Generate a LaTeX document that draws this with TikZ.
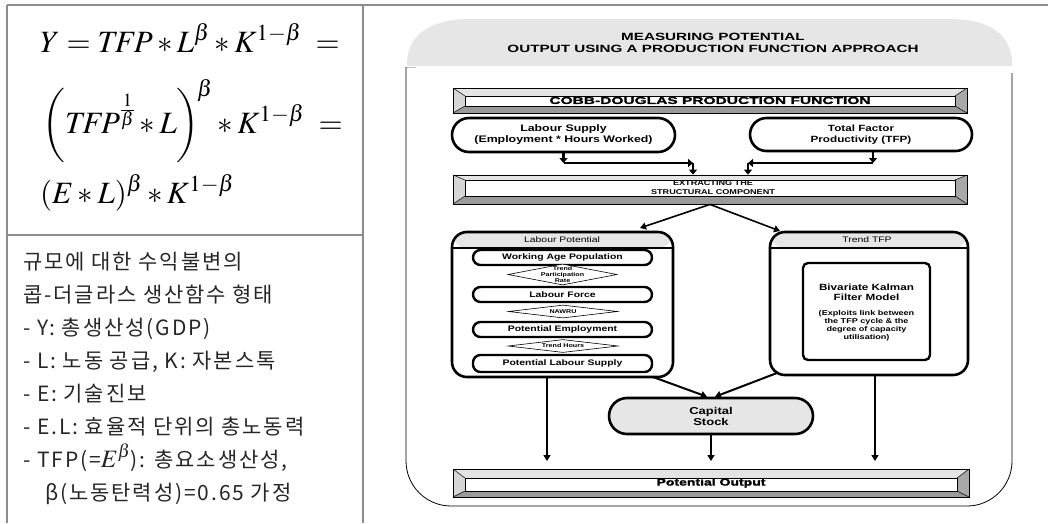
\documentclass[tikz,border=0pt]{standalone}
\usepackage{mathptmx}
\usepackage[no-math]{fontspec}
\setmainfont{Liberation Sans}
\newfontfamily\kr[LetterSpace=9]{Noto Sans CJK KR}
\newfontfamily\fa[FakeStretch=1.3]{Liberation Sans}
\newfontfamily\fb[FakeStretch=1.55,FakeBold=1.5]{Liberation Sans}
\newfontfamily\fc[FakeStretch=1.45]{Liberation Sans}
\newfontfamily\fd[FakeStretch=1.4,FakeBold=1.5]{Liberation Sans}
\usetikzlibrary{arrows.meta,calc,shapes.geometric}
\definecolor{tblgray}{HTML}{8C8C8C}
\definecolor{hdrgray}{HTML}{E6E6E6}
\definecolor{bvT}{HTML}{E4E4E4}
\definecolor{bvL}{HTML}{D6D6D6}
\definecolor{bvB}{HTML}{9A9A9A}
\definecolor{bvR}{HTML}{A8A8A8}
\tikzset{
  tbl/.style={draw=tblgray, line width=1.3pt},
  formula/.style={inner sep=0pt, anchor=base west, font=\fontsize{31}{36}\selectfont},
  kline/.style={inner sep=0pt, anchor=base west, text=black!85, font=\kr\fontsize{21}{24}\selectfont},
  bar/.style={draw, line width=0.8pt, rectangle, inner sep=0pt, fill=white},
  bevel/.style n args={3}{path picture={
    \fill[bvT] (path picture bounding box.north west) -- (path picture bounding box.north east)
      -- ([xshift=-#3pt,yshift=-#1pt]path picture bounding box.north east)
      -- ([xshift=#3pt,yshift=-#1pt]path picture bounding box.north west) -- cycle;
    \fill[bvB] (path picture bounding box.south west) -- (path picture bounding box.south east)
      -- ([xshift=-#3pt,yshift=#2pt]path picture bounding box.south east)
      -- ([xshift=#3pt,yshift=#2pt]path picture bounding box.south west) -- cycle;
    \fill[bvL] (path picture bounding box.north west)
      -- ([xshift=#3pt,yshift=-#1pt]path picture bounding box.north west)
      -- ([xshift=#3pt,yshift=#2pt]path picture bounding box.south west)
      -- (path picture bounding box.south west) -- cycle;
    \fill[bvR] (path picture bounding box.north east)
      -- ([xshift=-#3pt,yshift=-#1pt]path picture bounding box.north east)
      -- ([xshift=-#3pt,yshift=#2pt]path picture bounding box.south east)
      -- (path picture bounding box.south east) -- cycle;
    \draw[line width=0.5pt] (path picture bounding box.north west) -- ([xshift=#3pt,yshift=-#1pt]path picture bounding box.north west)
      (path picture bounding box.north east) -- ([xshift=-#3pt,yshift=-#1pt]path picture bounding box.north east)
      (path picture bounding box.south west) -- ([xshift=#3pt,yshift=#2pt]path picture bounding box.south west)
      (path picture bounding box.south east) -- ([xshift=-#3pt,yshift=#2pt]path picture bounding box.south east);
    \draw[fill=white, line width=1pt] ([xshift=#3pt,yshift=-#1pt]path picture bounding box.north west)
      rectangle ([xshift=-#3pt,yshift=#2pt]path picture bounding box.south east);
  }},
  pill/.style={draw, line width=2.6pt, fill=white, inner sep=0pt, align=center},
  cont/.style={draw, line width=2.6pt, rounded corners=15pt, fill=white, inner sep=0pt,
    path picture={
      \fill[hdrgray] (path picture bounding box.north west) rectangle ([yshift=-16pt]path picture bounding box.north east);
      \draw[line width=1.8pt] ([yshift=-16pt]path picture bounding box.north west) -- ([yshift=-16pt]path picture bounding box.north east);
    }},
  inbox/.style={draw, line width=2.4pt, rounded corners=7.5pt, fill=white, inner sep=0pt,
    minimum width=179pt, font=\fa\bfseries\fontsize{8}{9}\selectfont},
  dia/.style={draw, line width=0.6pt, diamond, fill=white, inner sep=0pt, minimum width=109pt},
  diatext/.style={inner sep=0pt, align=center, font=\fa\bfseries\fontsize{5.5}{6}\selectfont},
  conn/.style={line width=2.6pt, -{Triangle[length=5pt,width=8pt]}},
  conn2/.style={line width=1.6pt, -{Triangle[length=6pt,width=7pt]}},
  conn3/.style={line width=2pt, -{Triangle[length=6pt,width=7pt]}},
}
\begin{document}
\begin{tikzpicture}[x=1pt,y=-1pt]
\useasboundingbox (0,0) rectangle (1048,523);
% ---- table
\draw[tbl] (7,5) -- (1048,5);
\draw[tbl] (7,5) -- (7,523);
\draw[tbl] (363,5) -- (363,523);
\draw[tbl] (7,235) -- (363,235);
% ---- formula
\node[formula] (f1) at (40,52) {$Y = \mathit{TFP} * L^{\beta} * K^{1-\beta} \;=$};
\node[formula] (f2) at (42,133) {$\left(\rule[-27pt]{0pt}{66pt}\mathit{TFP}^{\frac{1}{\beta}} * L\right)^{\!\beta} * K^{1-\beta} \;=$};
\node[formula] (f3) at (40,203) {$(E * L)^{\beta} * K^{1-\beta}$};
% ---- korean text
\node[kline] (k1) at (23,269) {규모에 대한 수익불변의};
\node[kline] (k2) at (23,302) {콥-더글라스 생산함수 형태};
\node[kline] (k3) at (23,335) {- Y: 총생산성(GDP)};
\node[kline] (k4) at (23,368) {- L: 노동 공급, K: 자본스톡};
\node[kline] (k5) at (23,401) {- E: 기술진보};
\node[kline] (k6) at (23,434) {- E.L: 효율적 단위의 총노동력};
\node[kline] (k7) at (23,467) {- TFP(=\fontsize{25}{25}\selectfont$E^{\beta}$\kr\fontsize{21}{24}\selectfont): 총요소생산성,};
\node[kline] (k8) at (45,500) {β(노동탄력성)=0.65 가정};
% ---- frame and header
\fill[hdrgray] (407,66) -- (407,64) .. controls (407,35) and (430,19) .. (470,19) -- (950,19)
  .. controls (990,19) and (1012,35) .. (1012,64) -- (1012,66) -- cycle;
\draw[gray!50, line width=0.8pt] (406,67) -- (416,67);
\draw[line width=0.8pt, rounded corners=45pt] (406,67) -- (406,506) -- (1012,506) -- (1012,73);
\node[align=center, inner sep=0pt, font=\fc\bfseries\fontsize{10.5}{11.5}\selectfont] (title) at (713,43)
  {MEASURING POTENTIAL\\OUTPUT USING A PRODUCTION FUNCTION APPROACH};
% ---- bars
\node[bar, bevel={8}{7}{12}, minimum width=514pt, minimum height=25pt] (cobb) at (710,100.5)
  {\fb\bfseries\fontsize{10}{10}\selectfont COBB-DOUGLAS PRODUCTION FUNCTION};
\node[bar, bevel={5}{8}{12}, minimum width=514pt, minimum height=29pt] (ext) at (710,189.5) {};
\node[align=center, inner sep=0pt, font=\fa\bfseries\fontsize{7}{9}\selectfont] (extt) at (713,187.5)
  {EXTRACTING THE\\STRUCTURAL COMPONENT};
\node[bar, bevel={9}{6}{12}, minimum width=516pt, minimum height=28pt] (pout) at (711,483)
  {\fd\bfseries\fontsize{10}{10}\selectfont Potential Output};
% ---- top pills
\node[pill, rounded corners=17pt, minimum width=223pt, minimum height=34pt,
  font=\fa\bfseries\fontsize{9.5}{11}\selectfont] (ls) at (563.5,135)
  {Labour Supply\\(Employment * Hours Worked)};
\node[pill, rounded corners=16.5pt, minimum width=222pt, minimum height=33pt,
  font=\fa\bfseries\fontsize{9}{11}\selectfont] (tfp) at (861,134.5)
  {Total Factor\\Productivity (TFP)};
% ---- containers
\node[cont, minimum width=221pt, minimum height=145pt] (lp) at (562.5,304.5) {};
\node[inner sep=0pt, font=\fa\fontsize{8}{9}\selectfont] (lph) at (562,240) {Labour Potential};
\node[cont, minimum width=198pt, minimum height=143pt] (tt) at (869,303.5) {};
\node[inner sep=0pt, font=\fa\fontsize{8}{9}\selectfont] (tth) at (867,240) {Trend TFP};
% labour potential inner chain
\node[inbox, minimum height=15pt] (wap) at (562.5,257.5) {Working Age Population};
\node[dia, minimum height=21pt] (d1) at (562.5,274.5) {};
\node[diatext] (d1t) at (562.5,274.5) {Trend\\Participation\\Rate};
\node[inbox, minimum height=15pt] (lf) at (562.5,294.5) {Labour Force};
\node[dia, minimum height=13pt] (d2) at (563,311.5) {};
\node[diatext] (d2t) at (563,311.5) {NAWRU};
\node[inbox, minimum height=15pt] (pe) at (562.5,329.5) {Potential Employment};
\node[dia, minimum height=13pt, minimum width=110pt] (d3) at (563,346) {};
\node[diatext] (d3t) at (563,346) {Trend Hours};
\node[inbox, minimum height=17pt] (pls) at (562.5,363.5) {Potential Labour Supply};
% trend tfp inner
\node[draw, line width=2.4pt, rounded corners=5pt, fill=white, minimum width=127pt, minimum height=97pt] (kal) at (866.5,311.5) {};
\node[align=center, inner sep=0pt, font=\fa\bfseries\fontsize{9}{10}\selectfont] (kal1) at (866.5,292) {Bivariate Kalman\\Filter Model};
\node[align=center, inner sep=0pt, font=\fa\bfseries\fontsize{7}{8}\selectfont] (kal2) at (866.5,326) {(Exploits link between\\the TFP cycle \& the\\degree of capacity\\utilisation)};
% capital stock
\node[pill, rounded corners=18pt, fill=hdrgray, minimum width=204pt, minimum height=36pt,
  font=\fa\bfseries\fontsize{10}{11}\selectfont] (cs) at (711,416) {Capital\\Stock};
% ---- connectors
\coordinate (lsA) at (563.5,163);
\coordinate (lsB) at (693,163);
\draw[conn] (ls.south) -- (lsA);
\draw[conn] (lsA) -- (lsB);
\draw[conn] (lsB) -- (lsB |- ext.north);
\coordinate (tfA) at (873,163);
\coordinate (tfB) at (748,163);
\draw[conn] (tfA |- tfp.south) -- (tfA);
\draw[conn] (tfA) -- (tfB);
\draw[conn] (tfB) -- (tfB |- ext.north);
\coordinate (lpIn) at (640,228);
\coordinate (ttIn) at (780,231);
\draw[conn2] (ext.south) -- (lpIn);
\draw[conn2] (ext.south) -- (ttIn);
\coordinate (lpOut) at (653,377);
\coordinate (ttOut) at (777,373);
\draw[conn3] (lpOut) -- ([xshift=-4pt]cs.north);
\draw[conn3] (ttOut) -- ([xshift=4pt]cs.north);
\coordinate (lpD) at (547,461);
\coordinate (ttD) at (875,461);
\draw[conn3] (lpD |- lp.south) -- (lpD);
\draw[conn3] (cs.south) -- (cs.south |- lpD);
\draw[conn3] (ttD |- tt.south) -- (ttD);
\end{tikzpicture}
\end{document}
